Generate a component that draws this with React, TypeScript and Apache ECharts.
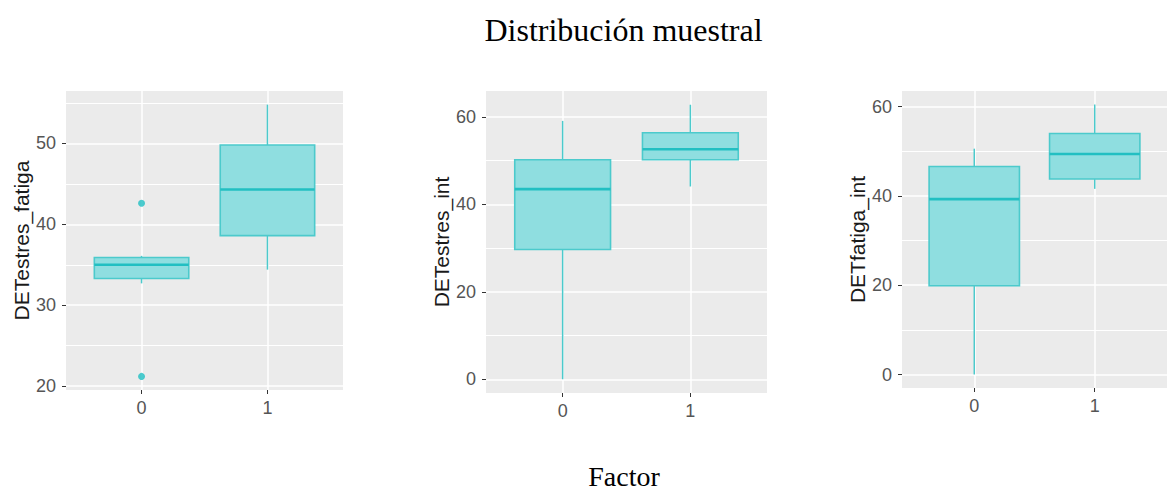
import React, { useEffect, useRef } from "react";
import * as echarts from "echarts";

// Factor levels shown on every x axis
const categories = ["0", "1"];

// Box summaries per level: [lower whisker, Q1, median, Q3, upper whisker]
const estresFatigaBoxes = [
  [32.7, 33.3, 35.0, 35.9, 36.1],
  [34.4, 38.6, 44.3, 49.8, 54.8],
];
// Outlying points: [level index, value]
const estresFatigaOutliers = [
  [0, 42.6],
  [0, 21.2],
];

const estresIntBoxes = [
  [0.0, 29.7, 43.5, 50.2, 59.1],
  [44.1, 50.2, 52.6, 56.4, 62.8],
];
const estresIntOutliers: number[][] = [];

const fatigaIntBoxes = [
  [0.0, 19.9, 39.3, 46.6, 50.6],
  [41.6, 43.8, 49.4, 54.0, 60.5],
];
const fatigaIntOutliers: number[][] = [];

// Y axis names and tick labels
const yNames = ["DETestres_fatiga", "DETestres_int", "DETfatiga_int"];
const yTicksFatiga = [20, 30, 40, 50];
const yTicksInt = [0, 20, 40, 60];

const titleText = "Distribución muestral";
const xAxisTitle = "Factor";

const BOX_WIDTH = 0.75;
const FILL = "#8fdee0";
const EDGE = "#4ccacc";
const MEDIAN = "#22bfc2";
const SANS = "'Liberation Sans', Arial, Helvetica, sans-serif";
const SERIF = "'Liberation Serif', 'Times New Roman', serif";

const panels = [
  { name: yNames[0], boxes: estresFatigaBoxes, outliers: estresFatigaOutliers, ticks: yTicksFatiga, splitNumber: 4,
    grid: { left: 66, top: 91, width: 277, height: 299 } },
  { name: yNames[1], boxes: estresIntBoxes, outliers: estresIntOutliers, ticks: yTicksInt, splitNumber: 3,
    grid: { left: 486, top: 91, width: 281, height: 302 } },
  { name: yNames[2], boxes: fatigaIntBoxes, outliers: fatigaIntOutliers, ticks: yTicksInt, splitNumber: 3,
    grid: { left: 902, top: 91, width: 275, height: 297 } },
];

// ggplot-style 5% padding around the data range
function paddedExtent(boxes: number[][], outliers: number[][]) {
  const vals: number[] = [];
  boxes.forEach((b) => vals.push(...b));
  outliers.forEach((o) => vals.push(o[1]));
  const lo = Math.min(...vals);
  const hi = Math.max(...vals);
  const pad = (hi - lo) * 0.05;
  return [lo - pad, hi + pad];
}

function renderBox(_params: any, api: any) {
  const x = api.value(0);
  const lo = api.value(1);
  const q1 = api.value(2);
  const med = api.value(3);
  const q3 = api.value(4);
  const hi = api.value(5);
  const half = api.size([BOX_WIDTH, 0])[0] / 2;
  const pLo = api.coord([x, lo]);
  const pQ1 = api.coord([x, q1]);
  const pMed = api.coord([x, med]);
  const pQ3 = api.coord([x, q3]);
  const pHi = api.coord([x, hi]);
  return {
    type: "group",
    children: [
      {
        type: "line",
        shape: { x1: pHi[0], y1: pHi[1], x2: pQ3[0], y2: pQ3[1] },
        style: { stroke: EDGE, lineWidth: 1.5 },
      },
      {
        type: "line",
        shape: { x1: pQ1[0], y1: pQ1[1], x2: pLo[0], y2: pLo[1] },
        style: { stroke: EDGE, lineWidth: 1.5 },
      },
      {
        type: "rect",
        shape: { x: pQ3[0] - half, y: pQ3[1], width: half * 2, height: pQ1[1] - pQ3[1] },
        style: { fill: FILL, stroke: EDGE, lineWidth: 1.6 },
      },
      {
        type: "line",
        shape: { x1: pMed[0] - half, y1: pMed[1], x2: pMed[0] + half, y2: pMed[1] },
        style: { stroke: MEDIAN, lineWidth: 2.6 },
      },
    ],
  };
}

export default function App() {
  const ref = useRef<HTMLDivElement>(null);

  useEffect(() => {
    if (!ref.current) return;
    const chart = echarts.init(ref.current, undefined, { renderer: "svg" });

    const grid: any[] = [];
    const xAxis: any[] = [];
    const yAxis: any[] = [];
    const series: any[] = [];

    panels.forEach((p, i) => {
      const [ymin, ymax] = paddedExtent(p.boxes, p.outliers);
      grid.push({
        ...p.grid,
        show: true,
        backgroundColor: "#ebebeb",
        borderWidth: 0,
        containLabel: false,
      });
      xAxis.push({
        type: "value",
        gridIndex: i,
        position: "bottom",
        min: 0.4,
        max: categories.length + 0.6,
        axisLine: { show: false, onZero: false },
        axisTick: {
          show: true,
          length: 4,
          customValues: categories.map((_c, k) => k + 1),
          lineStyle: { color: "#333", width: 1 },
        },
        axisLabel: {
          customValues: categories.map((_c, k) => k + 1),
          formatter: (v: number) => categories[Math.round(v) - 1] ?? "",
          fontFamily: SANS,
          fontSize: 18,
          color: "#555",
          margin: 9,
        },
        splitLine: { show: true, lineStyle: { color: "#ffffff", width: 1.5 } },
        minorSplitLine: { show: false },
      });
      yAxis.push({
        type: "value",
        gridIndex: i,
        position: "left",
        min: ymin,
        max: ymax,
        splitNumber: p.splitNumber,
        name: p.name,
        nameLocation: "middle",
        nameGap: 33,
        nameTextStyle: { fontFamily: SANS, fontSize: 21, color: "#1a1a1a" },
        axisLine: { show: false, onZero: false },
        axisTick: {
          show: true,
          length: 4,
          customValues: p.ticks,
          lineStyle: { color: "#333", width: 1 },
        },
        axisLabel: {
          customValues: p.ticks,
          fontFamily: SANS,
          fontSize: 18,
          color: "#555",
          margin: 10,
        },
        splitLine: { show: true, lineStyle: { color: "#ffffff", width: 1.5 } },
        minorTick: { show: false, splitNumber: 2 },
        minorSplitLine: { show: true, lineStyle: { color: "#ffffff", width: 1 } },
      });
      series.push({
        type: "custom",
        xAxisIndex: i,
        yAxisIndex: i,
        renderItem: renderBox,
        encode: { x: 0, y: [1, 2, 3, 4, 5] },
        data: p.boxes.map((b, k) => [k + 1, ...b]),
        z: 2,
      });
      if (p.outliers.length) {
        series.push({
          type: "scatter",
          xAxisIndex: i,
          yAxisIndex: i,
          symbol: "circle",
          symbolSize: 7,
          itemStyle: { color: "#1fbfc3" },
          data: p.outliers.map((o) => [o[0] + 1, o[1]]),
          z: 3,
        });
      }
    });

    chart.setOption({
      animation: false,
      backgroundColor: "#ffffff",
      grid,
      xAxis,
      yAxis,
      series,
      graphic: [
        {
          type: "text",
          x: 623.5,
          y: 30,
          style: {
            text: titleText,
            fontFamily: SERIF,
            fontSize: 32,
            fill: "#000",
            textAlign: "center",
            textVerticalAlign: "middle",
          },
        },
        {
          type: "text",
          x: 624,
          y: 476,
          style: {
            text: xAxisTitle,
            fontFamily: SERIF,
            fontSize: 28,
            fill: "#000",
            textAlign: "center",
            textVerticalAlign: "middle",
          },
        },
      ],
    });

    return () => chart.dispose();
  }, []);

  return (
    <div
      ref={ref}
      style={{ position: "absolute", left: 0, top: 0, width: 1167, height: 491, background: "#fff" }}
    />
  );
}
